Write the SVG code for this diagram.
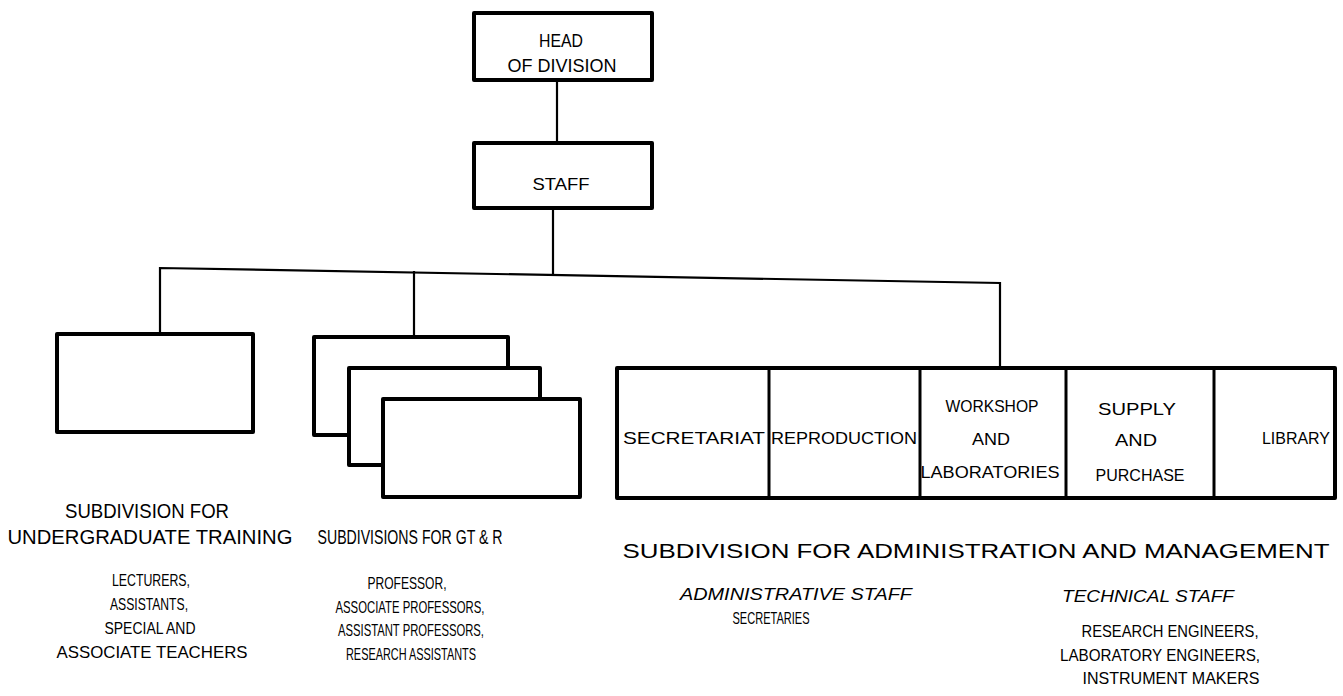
<svg xmlns="http://www.w3.org/2000/svg" width="1343" height="696" viewBox="0 0 1343 696">
  <style>
    .box { fill: #fff; stroke: #000; stroke-width: 4; stroke-linejoin: round; }
    .div { stroke: #000; stroke-width: 3; }
    .link { fill: none; stroke: #000; stroke-width: 2.2; }
    text { font-family: "Liberation Sans", Arial, sans-serif; fill: #000; text-anchor: middle; }
    .t { font-size: 17px; }
    .b { font-size: 16.5px; }
    .n { font-size: 19px; }
    .h { font-size: 21px; }
    .i { font-size: 17px; font-style: italic; }
  </style>

  <!-- connectors -->
  <g id="connectors">
    <line class="link" x1="557" y1="80" x2="557" y2="143"/>
    <line class="link" x1="553" y1="208" x2="553" y2="274"/>
    <polyline class="link" points="160,335 160,268 1000,283 1000,368"/>
    <line class="link" x1="414" y1="271" x2="414" y2="337"/>
  </g>

  <g id="head">
    <rect class="box" x="474" y="13" width="178" height="67"/>
    <text class="n" x="561" y="47" textLength="44" lengthAdjust="spacingAndGlyphs">HEAD</text>
    <text class="n" x="562" y="72" textLength="109" lengthAdjust="spacingAndGlyphs">OF DIVISION</text>
  </g>

  <g id="staff">
    <rect class="box" x="474" y="143" width="178" height="65"/>
    <text class="b" x="561" y="190" textLength="57" lengthAdjust="spacingAndGlyphs">STAFF</text>
  </g>

  <g id="undergraduate">
    <rect class="box" x="57" y="334" width="196" height="98"/>
    <text class="h" x="147" y="518" textLength="164" lengthAdjust="spacingAndGlyphs">SUBDIVISION FOR</text>
    <text class="h" x="150" y="544" textLength="285" lengthAdjust="spacingAndGlyphs">UNDERGRADUATE TRAINING</text>
    <text class="t" x="151" y="586" textLength="78" lengthAdjust="spacingAndGlyphs">LECTURERS,</text>
    <text class="t" x="149" y="610" textLength="78" lengthAdjust="spacingAndGlyphs">ASSISTANTS,</text>
    <text class="t" x="150" y="634" textLength="91" lengthAdjust="spacingAndGlyphs">SPECIAL AND</text>
    <text class="t" x="152" y="658" textLength="191" lengthAdjust="spacingAndGlyphs">ASSOCIATE TEACHERS</text>
  </g>

  <g id="gtr">
    <rect class="box" x="314" y="337" width="194" height="98"/>
    <rect class="box" x="349" y="368" width="191" height="97"/>
    <rect class="box" x="383" y="399" width="197" height="98"/>
    <text class="h" x="410" y="544" textLength="185" lengthAdjust="spacingAndGlyphs">SUBDIVISIONS FOR GT &amp; R</text>
    <text class="t" x="407" y="589" textLength="79" lengthAdjust="spacingAndGlyphs">PROFESSOR,</text>
    <text class="t" x="410" y="613" textLength="149" lengthAdjust="spacingAndGlyphs">ASSOCIATE PROFESSORS,</text>
    <text class="t" x="411" y="636" textLength="146" lengthAdjust="spacingAndGlyphs">ASSISTANT PROFESSORS,</text>
    <text class="t" x="411" y="660" textLength="130" lengthAdjust="spacingAndGlyphs">RESEARCH ASSISTANTS</text>
  </g>

  <g id="administration">
    <rect class="box" x="617" y="368" width="718" height="130"/>
    <line class="div" x1="769" y1="368" x2="769" y2="498"/>
    <line class="div" x1="920" y1="368" x2="920" y2="498"/>
    <line class="div" x1="1066" y1="368" x2="1066" y2="498"/>
    <line class="div" x1="1214" y1="368" x2="1214" y2="498"/>
    <text class="b" x="694" y="444" textLength="142" lengthAdjust="spacingAndGlyphs">SECRETARIAT</text>
    <text class="b" x="844" y="444" textLength="146" lengthAdjust="spacingAndGlyphs">REPRODUCTION</text>
    <text class="b" x="992" y="412" textLength="93" lengthAdjust="spacingAndGlyphs">WORKSHOP</text>
    <text class="b" x="991" y="445" textLength="38" lengthAdjust="spacingAndGlyphs">AND</text>
    <text class="b" x="990" y="478" textLength="139" lengthAdjust="spacingAndGlyphs">LABORATORIES</text>
    <text class="b" x="1137" y="415" textLength="78" lengthAdjust="spacingAndGlyphs">SUPPLY</text>
    <text class="b" x="1136" y="446" textLength="42" lengthAdjust="spacingAndGlyphs">AND</text>
    <text class="b" x="1140" y="481" textLength="89" lengthAdjust="spacingAndGlyphs">PURCHASE</text>
    <text class="b" x="1296" y="444" textLength="68" lengthAdjust="spacingAndGlyphs">LIBRARY</text>
    <text class="h" x="976" y="558" textLength="707" lengthAdjust="spacingAndGlyphs">SUBDIVISION FOR ADMINISTRATION AND MANAGEMENT</text>
    <text class="i" x="796" y="600" textLength="232" lengthAdjust="spacingAndGlyphs">ADMINISTRATIVE STAFF</text>
    <text class="t" x="771" y="624" textLength="77" lengthAdjust="spacingAndGlyphs">SECRETARIES</text>
    <text class="i" x="1148" y="602" textLength="172" lengthAdjust="spacingAndGlyphs">TECHNICAL STAFF</text>
    <text class="t" x="1170" y="637" textLength="177" lengthAdjust="spacingAndGlyphs">RESEARCH ENGINEERS,</text>
    <text class="t" x="1160" y="661" textLength="200" lengthAdjust="spacingAndGlyphs">LABORATORY ENGINEERS,</text>
    <text class="t" x="1171" y="684" textLength="177" lengthAdjust="spacingAndGlyphs">INSTRUMENT MAKERS</text>
  </g>
</svg>
